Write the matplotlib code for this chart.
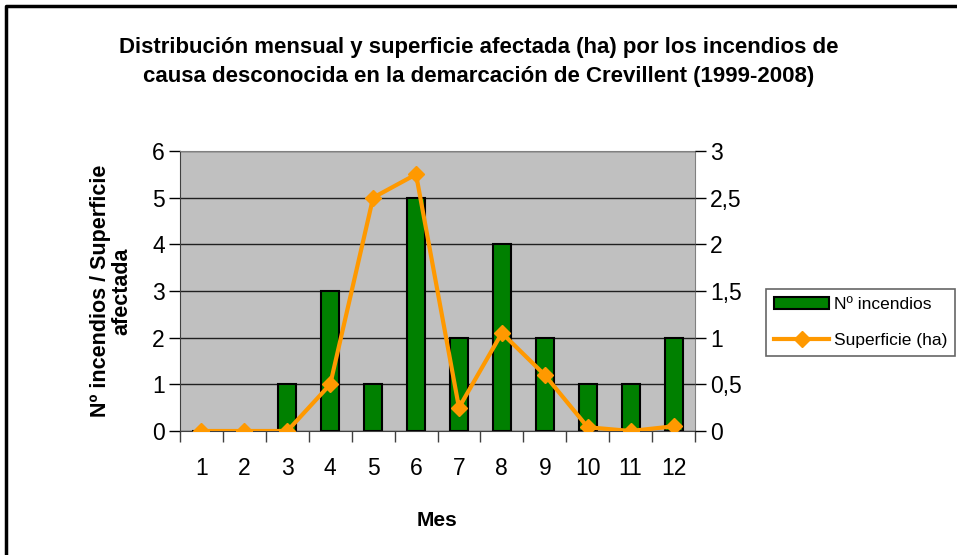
import numpy as np
import matplotlib.pyplot as plt
from matplotlib.lines import Line2D

meses = [1, 2, 3, 4, 5, 6, 7, 8, 9, 10, 11, 12]
n_incendios = [0, 0, 1, 3, 1, 5, 2, 4, 2, 1, 1, 2]
superficie = [0, 0, 0, 0.5, 2.5, 2.75, 0.25, 1.05, 0.6, 0.04, 0, 0.05]
ticks_izq = [0, 1, 2, 3, 4, 5, 6]
ticks_der = [0, 0.5, 1, 1.5, 2, 2.5, 3]
labels_der = ['0', '0,5', '1', '1,5', '2', '2,5', '3']

plt.rcParams['font.family'] = ['Liberation Sans Narrow', 'Liberation Sans', 'DejaVu Sans']

fig = plt.figure(figsize=(9.57, 5.55), dpi=100)
# marco exterior (izquierda y arriba)
fig.lines.append(Line2D([6 / 957, 6 / 957, 1.0], [0.0, 1 - 6 / 555, 1 - 6 / 555],
                        transform=fig.transFigure, color='black', linewidth=2.5))

ax = fig.add_axes([180 / 957, 1 - 431 / 555, 515 / 957, 280 / 555])
ax.set_facecolor('#C0C0C0')
x = np.arange(len(meses))
barras = ax.bar(x, n_incendios, width=0.42, color='#008000', edgecolor='black',
                linewidth=1.5, label='Nº incendios', zorder=3)
ax.set_xlim(-0.5, len(meses) - 0.5)
ax.set_ylim(0, 6)
ax.set_yticks(ticks_izq)
ax.yaxis.grid(True, color='#202020', linewidth=1, zorder=1)
ax.set_axisbelow(True)
ax.set_xticks(x)
ax.set_xticklabels([str(m) for m in meses], fontsize=16.5)
ax.set_xticks(np.arange(-0.5, len(meses), 1), minor=True)
ax.tick_params(axis='x', which='major', length=0, pad=19)
ax.tick_params(axis='x', which='minor', length=8, width=1, color='#404040')
ax.tick_params(axis='y', length=8, width=1, labelsize=16.5, pad=3)
for s in ['top', 'right']:
    ax.spines[s].set_color('#808080')
ax.spines['left'].set_color('#404040')
ax.spines['bottom'].set_color('#404040')

ax2 = ax.twinx()
linea, = ax2.plot(x, superficie, color='#FF9900', linewidth=3, marker='D',
                  markersize=8, label='Superficie (ha)', zorder=4)
ax2.set_ylim(0, 3)
ax2.set_yticks(ticks_der)
ax2.set_yticklabels(labels_der)
ax2.tick_params(axis='y', length=8, width=1, labelsize=16.5, pad=3)
for s in ax2.spines.values():
    s.set_visible(False)

ax.set_ylabel('Nº incendios / Superficie\nafectada', fontsize=15.5,
              fontweight='bold', labelpad=14, linespacing=1.05)
ax.set_xlabel('Mes', fontsize=15, fontweight='bold', labelpad=22)

fig.text(0.5, 1 - 62 / 555, 'Distribución mensual y superficie afectada (ha) por los incendios de\n'
         'causa desconocida en la demarcación de Crevillent (1999-2008)',
         ha='center', va='center', fontsize=16, fontweight='bold', linespacing=1.5)

leg = fig.legend([barras, linea], ['Nº incendios', 'Superficie (ha)'],
                 loc='upper left', bbox_to_anchor=(766 / 957, 1 - 289 / 555),
                 fontsize=12.5, frameon=True, fancybox=False, edgecolor='#404040',
                 handlelength=3.2, borderpad=0.45, labelspacing=1.2,
                 handletextpad=0.25, borderaxespad=0)
leg.get_frame().set_linewidth(1.2)

fig.savefig('out.png', dpi=100)
